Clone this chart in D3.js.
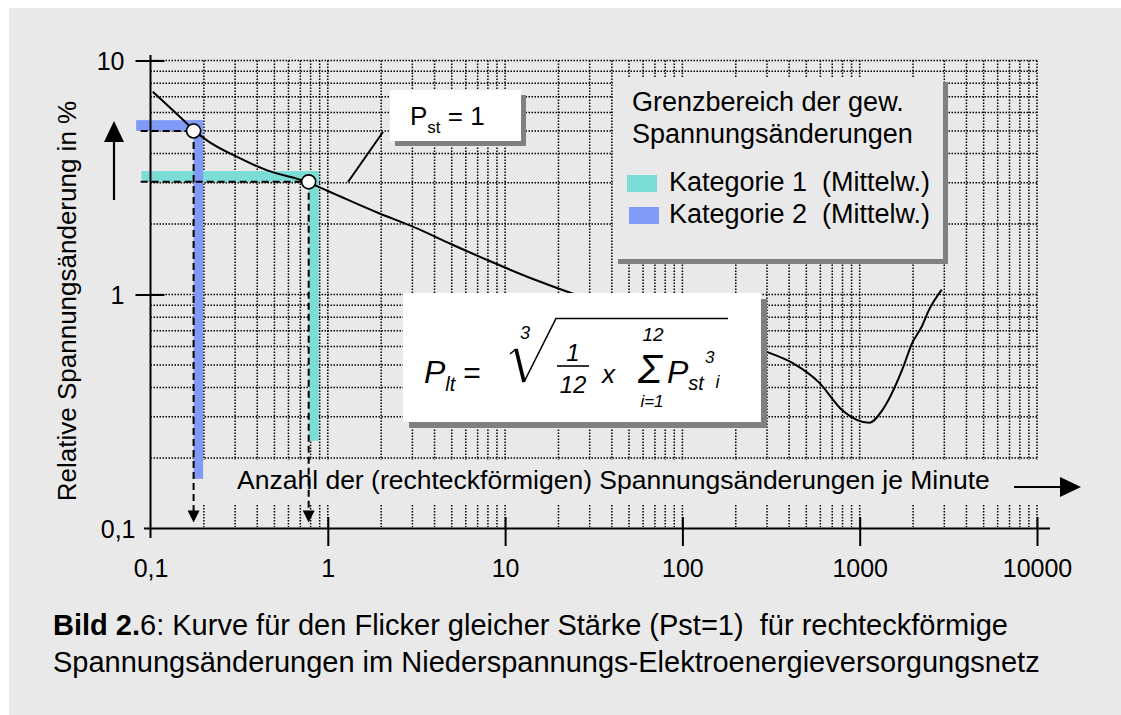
<!DOCTYPE html>
<html>
<head>
<meta charset="utf-8">
<script src="https://cdn.jsdelivr.net/npm/d3@7"></script>
<style>
  body { margin: 0; background: #fff; }
  text { font-family: "Liberation Sans", Arial, Helvetica, sans-serif; white-space: pre; fill: #000; }
</style>
</head>
<body>
<svg id="chart" width="1121" height="715"></svg>
<script>
// Curve of equal flicker severity (Pst = 1):
// number of rectangular voltage changes per minute vs. relative voltage change in %
const rate = [0.103, 0.153, 0.175, 0.207, 0.306, 0.452, 0.76, 1.0, 1.96, 3.02, 4.98, 8.18, 15.0, 23.1,
              50, 110, 200, 296, 417, 591, 797, 1132, 1340, 1735, 1976, 2240, 2460, 2904];
const deltaU = [7.36, 5.57, 5.05, 4.57, 3.88, 3.40, 3.03, 2.77, 2.22, 1.95, 1.64, 1.39, 1.15, 1.02,
                0.85, 0.72, 0.63, 0.57, 0.51, 0.42, 0.32, 0.283, 0.32, 0.476, 0.62, 0.73, 0.86, 1.05];

// Axis ticks
const xTickValues = [0.1, 1, 10, 100, 1000, 10000];
const xTickLabels = ["0,1", "1", "10", "100", "1000", "10000"];
const yTickValues = [0.1, 1, 10];
const yTickLabels = ["0,1", "1", "10"];

// Limit ranges of the weighted voltage changes (mean values) per category
const categories = ["Kategorie 1  (Mittelw.)", "Kategorie 2  (Mittelw.)"];
const catColors = ["#7cdcd6", "#7f9af7"];
const catRate = [0.78, 0.175];        // operating point, changes per minute
const catDeltaU = [3.03, 5.0];        // operating point, %
const catRateMax = [0.89, 0.198];     // outer edge of the band (rate)
const catDeltaUMax = [3.37, 5.56];    // outer edge of the band (%)
const catRateFrom = [0.089, 0.083];   // horizontal band starts here
const catDeltaUTo = [0.237, 0.163];   // vertical band ends here
const guideFrom = 0.088;              // dashed guide start (rate)

const svg = d3.select("#chart");
const W = 1121, H = 715;

// page background
svg.append("rect").attr("x", 0).attr("y", 0).attr("width", W).attr("height", H).attr("fill", "#fff");
svg.append("rect").attr("x", 9).attr("y", 8).attr("width", W - 9).attr("height", H - 8).attr("fill", "#e9e9e9");

const x = d3.scaleLog().domain([0.1, 10000]).range([150.5, 1037]);
const y = d3.scaleLog().domain([0.1, 10]).range([528.5, 60.5]);

// ---- dotted grid ----
const grid = svg.append("g").attr("stroke", "#000").attr("stroke-width", 1.5).attr("stroke-dasharray", "1.5,1.5");
const xGrid = [];
[0.1, 1, 10, 100, 1000].forEach(d => { for (let k = 2; k <= 10; k++) xGrid.push(+(d * k).toPrecision(3)); });
const yGrid = [];
[0.1, 1].forEach(d => { for (let k = 2; k <= 10; k++) yGrid.push(+(d * k).toPrecision(3)); });

// vertical lines, interrupted behind the x axis title
const bandTop = 460, bandBottom = 505;
grid.selectAll(".vg1").data(xGrid).join("line")
  .attr("x1", d => x(d)).attr("x2", d => x(d))
  .attr("y1", y(10)).attr("y2", bandTop);
grid.selectAll(".vg2").data(xGrid).join("line")
  .attr("x1", d => x(d)).attr("x2", d => x(d))
  .attr("y1", bandBottom).attr("y2", y(0.1) - 1.5);
grid.selectAll(".hg").data(yGrid).join("line")
  .attr("x1", x(0.1)).attr("x2", x(10000))
  .attr("y1", d => y(d)).attr("y2", d => y(d));

// ---- category bands (L-shaped) ----
const bands = svg.append("g");
categories.forEach((c, i) => {
  // horizontal arm
  bands.append("rect")
    .attr("x", x(catRateFrom[i])).attr("y", y(catDeltaUMax[i]))
    .attr("width", x(catRateMax[i]) - x(catRateFrom[i]))
    .attr("height", y(catDeltaU[i]) - y(catDeltaUMax[i]))
    .attr("fill", catColors[i]);
  // vertical arm
  bands.append("rect")
    .attr("x", x(catRate[i])).attr("y", y(catDeltaUMax[i]))
    .attr("width", x(catRateMax[i]) - x(catRate[i]))
    .attr("height", y(catDeltaUTo[i]) - y(catDeltaUMax[i]))
    .attr("fill", catColors[i]);
});

// ---- dashed guides with arrowheads ----
const guides = svg.append("g");
categories.forEach((c, i) => {
  const px = x(catRate[i]), py = y(catDeltaU[i]);
  const tip = y(0.1) - 6;
  guides.append("line").attr("x1", x(guideFrom)).attr("x2", px).attr("y1", py).attr("y2", py)
    .attr("stroke", "#000").attr("stroke-width", 2).attr("stroke-dasharray", "7,4");
  guides.append("line").attr("x1", px).attr("x2", px).attr("y1", py).attr("y2", tip - 10)
    .attr("stroke", "#000").attr("stroke-width", 2).attr("stroke-dasharray", "7,4");
  guides.append("path")
    .attr("d", `M${px - 6},${tip - 12} L${px + 6},${tip - 12} L${px},${tip} Z`)
    .attr("fill", "#000");
});

// ---- Pst = 1 curve ----
const line = d3.line().x((d, i) => x(rate[i])).y((d, i) => y(deltaU[i])).curve(d3.curveMonotoneX);
svg.append("path").datum(rate).attr("d", line)
  .attr("fill", "none").attr("stroke", "#000").attr("stroke-width", 2);

// operating points
svg.append("g").selectAll("circle").data(categories).join("circle")
  .attr("cx", (d, i) => x(catRate[i])).attr("cy", (d, i) => y(catDeltaU[i]))
  .attr("r", 7).attr("fill", "#fff").attr("stroke", "#000").attr("stroke-width", 1.6);

// ---- axes ----
const axisColor = "#000";
const gx = svg.append("g").attr("transform", `translate(0,${y(0.1)})`)
  .call(d3.axisBottom(x).tickValues(xTickValues).tickFormat((d, i) => xTickLabels[i]).tickSizeOuter(0));
gx.select(".domain").remove();
gx.selectAll(".tick line").attr("stroke", axisColor).attr("stroke-width", 2)
  .attr("y1", d => d === 0.1 ? 0 : -11.5).attr("y2", d => d === 0.1 ? 0 : 17.5);
gx.selectAll(".tick text").attr("y", 48.5).attr("dy", 0)
  .attr("font-size", 25).attr("font-family", null);

const gy = svg.append("g").attr("transform", `translate(${x(0.1)},0)`)
  .call(d3.axisLeft(y).tickValues(yTickValues).tickFormat((d, i) => yTickLabels[i]).tickSizeOuter(0));
gy.select(".domain").remove();
gy.selectAll(".tick line").attr("stroke", axisColor).attr("stroke-width", 2)
  .attr("x1", d => d === 0.1 ? 0 : -15).attr("x2", d => d === 0.1 ? 0 : 14);
gy.selectAll(".tick text").attr("x", d => d === 0.1 ? -15 : -26).attr("dy", 9)
  .attr("font-size", 25).attr("font-family", null);

svg.append("line").attr("x1", x(0.1)).attr("x2", x(0.1)).attr("y1", 55).attr("y2", 538)
  .attr("stroke", axisColor).attr("stroke-width", 2);
svg.append("line").attr("x1", 144).attr("x2", 1050).attr("y1", y(0.1)).attr("y2", y(0.1))
  .attr("stroke", axisColor).attr("stroke-width", 2);

// axis titles
svg.append("text").attr("transform", "translate(76,301) rotate(-90)")
  .attr("text-anchor", "middle").attr("font-size", 26)
  .text("Relative Spannungsänderung in %");
svg.append("text").attr("x", 237).attr("y", 489).attr("font-size", 26.5)
  .text("Anzahl der (rechteckförmigen) Spannungsänderungen je Minute");

// axis arrows
svg.append("line").attr("x1", 114).attr("x2", 114).attr("y1", 200).attr("y2", 140)
  .attr("stroke", "#000").attr("stroke-width", 2.2);
svg.append("path").attr("d", "M104,142 L124,142 L114,121 Z").attr("fill", "#000");
svg.append("line").attr("x1", 1014).attr("x2", 1062).attr("y1", 487).attr("y2", 487)
  .attr("stroke", "#000").attr("stroke-width", 2.2);
svg.append("path").attr("d", "M1060,477 L1060,497 L1081,487 Z").attr("fill", "#000");

// ---- Pst = 1 label box ----
svg.append("line").attr("x1", 383).attr("y1", 132).attr("x2", 348).attr("y2", 182)
  .attr("stroke", "#000").attr("stroke-width", 2);
svg.append("rect").attr("x", 395).attr("y", 95).attr("width", 131).attr("height", 51).attr("fill", "#808080");
svg.append("rect").attr("x", 390).attr("y", 90).attr("width", 131).attr("height", 51).attr("fill", "#fff");
const pst = svg.append("text").attr("x", 410).attr("y", 125).attr("font-size", 26);
pst.append("tspan").text("P");
pst.append("tspan").attr("font-size", 17).attr("dy", 8).text("st");
pst.append("tspan").attr("dy", -8).text(" = 1");

// ---- legend ----
svg.append("rect").attr("x", 618).attr("y", 82).attr("width", 330).attr("height", 182).attr("fill", "#808080");
svg.append("rect").attr("x", 613).attr("y", 77).attr("width", 330).attr("height", 182).attr("fill", "#e9e9e9");
svg.append("text").attr("x", 632).attr("y", 111).attr("font-size", 27).text("Grenzbereich der gew.");
svg.append("text").attr("x", 632).attr("y", 143).attr("font-size", 27).text("Spannungsänderungen");
const leg = svg.append("g").selectAll("g").data(categories).join("g")
  .attr("transform", (d, i) => `translate(0,${i * 32})`);
leg.append("rect").attr("x", (d, i) => 627 + i * 2).attr("y", 175).attr("width", 30).attr("height", 17)
  .attr("fill", (d, i) => catColors[i]);
leg.append("text").attr("x", 669).attr("y", 191).attr("font-size", 27).text(d => d);

// ---- formula box: P_lt = cube root of (1/12 x sum of Pst_i^3) ----
svg.append("rect").attr("x", 409).attr("y", 299).attr("width", 358).attr("height", 129).attr("fill", "#808080");
svg.append("rect").attr("x", 403).attr("y", 293).attr("width", 358).attr("height", 129).attr("fill", "#fff");
const f = svg.append("g").attr("font-style", "italic");

const plt = f.append("text").attr("x", 424).attr("y", 383).attr("font-size", 32);
plt.append("tspan").text("P");
plt.append("tspan").attr("font-size", 20).attr("dy", 8).text("lt");
plt.append("tspan").attr("font-style", "normal").attr("font-size", 30).attr("dy", -8).attr("dx", 8).text("=");

// radical with index
f.append("text").attr("x", 520).attr("y", 339).attr("font-size", 18).text("3");
f.append("path").attr("d", "M510,354 L516,349").attr("stroke", "#000").attr("stroke-width", 1.6).attr("fill", "none");
f.append("path").attr("d", "M516,349 L524,382").attr("stroke", "#000").attr("stroke-width", 3.6).attr("fill", "none");
f.append("path").attr("d", "M524,382 L556,318.5 L728,318.5").attr("stroke", "#000").attr("stroke-width", 1.6).attr("fill", "none");

// fraction 1/12
f.append("text").attr("x", 573).attr("y", 361).attr("font-size", 24).attr("text-anchor", "middle").text("1");
f.append("line").attr("x1", 557).attr("x2", 589).attr("y1", 366).attr("y2", 366).attr("stroke", "#000").attr("stroke-width", 1.6);
f.append("text").attr("x", 573).attr("y", 393).attr("font-size", 24).attr("text-anchor", "middle").text("12");
f.append("text").attr("x", 602).attr("y", 383).attr("font-size", 26).text("x");

// summation with limits
const sum = f.append("text").attr("font-size", 19).attr("text-anchor", "middle");
sum.append("tspan").attr("x", 653).attr("y", 341).text("12");
sum.append("tspan").attr("x", 650).attr("y", 383).attr("font-size", 40).text("Σ");
sum.append("tspan").attr("x", 652).attr("y", 407).attr("font-size", 17).text("i=1");

const pst3 = f.append("text").attr("x", 667).attr("y", 383).attr("font-size", 32);
pst3.append("tspan").text("P");
pst3.append("tspan").attr("font-size", 20).attr("dy", 7).text("st");
pst3.append("tspan").attr("font-size", 17).attr("dy", -27).attr("dx", 1).text("3");
pst3.append("tspan").attr("font-size", 18).attr("dy", 25).attr("dx", 1).text("i");

// ---- caption ----
const cap1 = svg.append("text").attr("x", 53).attr("y", 635).attr("font-size", 29);
cap1.append("tspan").attr("font-weight", "bold").text("Bild 2.");
cap1.append("tspan").text("6: Kurve für den Flicker gleicher Stärke (Pst=1)  für rechteckförmige");
svg.append("text").attr("x", 53).attr("y", 672).attr("font-size", 29)
  .text("Spannungsänderungen im Niederspannungs-Elektroenergieversorgungsnetz");
</script>
</body>
</html>
